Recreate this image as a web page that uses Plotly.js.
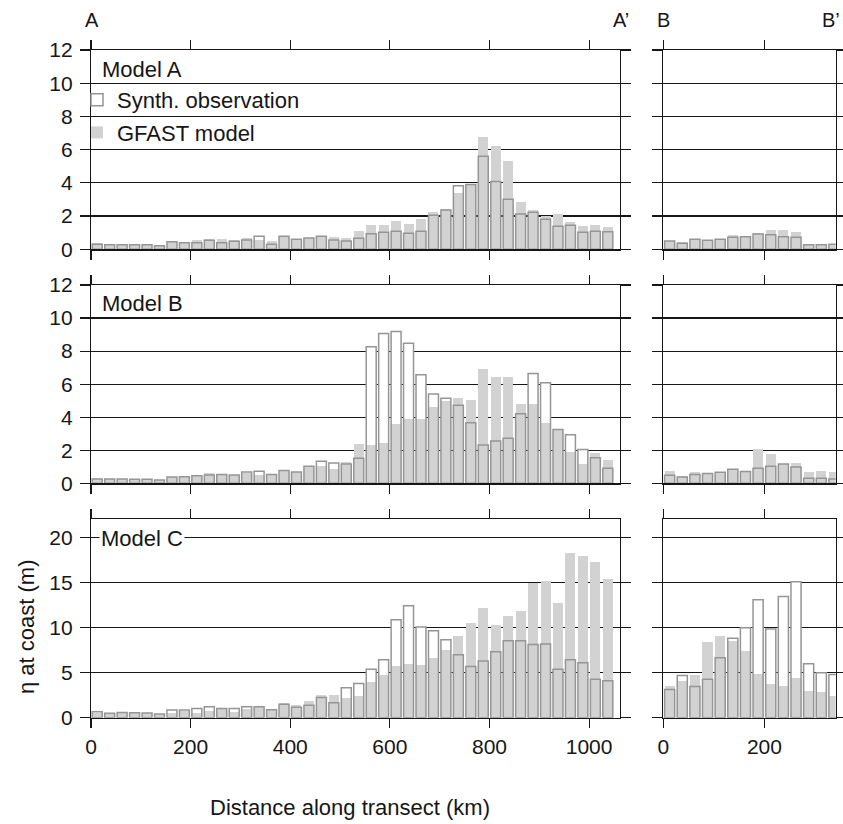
<!DOCTYPE html>
<html>
<head>
<meta charset="utf-8">
<script src="https://cdn.plot.ly/plotly-3.0.1.min.js"></script>
<style>html,body{margin:0;padding:0;background:#fff;}#chart{width:843px;height:824px;}</style>
</head>
<body>
<div id="chart"></div>
<script>
// Bar centre positions along each transect (km)
const distAA = [12.5, 37.5, 62.5, 87.5, 112.5, 137.5, 162.5, 187.5, 212.5, 237.5,
  262.5, 287.5, 312.5, 337.5, 362.5, 387.5, 412.5, 437.5, 462.5, 487.5,
  512.5, 537.5, 562.5, 587.5, 612.5, 637.5, 662.5, 687.5, 712.5, 737.5,
  762.5, 787.5, 812.5, 837.5, 862.5, 887.5, 912.5, 937.5, 962.5, 987.5,
  1012.5, 1037.5];
const distBB = [12.5, 37.5, 62.5, 87.5, 112.5, 137.5, 162.5, 187.5, 212.5, 237.5,
  262.5, 287.5, 312.5, 337.5];

// Model A
const obsA_AA = [0.30,0.28,0.28,0.28,0.28,0.22,0.46,0.40,0.40,0.54,
  0.40,0.48,0.56,0.78,0.30,0.78,0.60,0.68,0.78,0.56,
  0.50,0.66,0.94,1.02,1.08,0.96,1.08,2.05,2.37,3.82,
  3.90,5.60,4.08,3.01,2.13,2.23,1.81,1.39,1.45,1.02,
  1.08,1.06];
const modA_AA = [0.35,0.28,0.28,0.28,0.28,0.22,0.46,0.44,0.56,0.62,
  0.62,0.54,0.66,0.56,0.48,0.78,0.60,0.68,0.74,0.76,
  0.66,1.08,1.45,1.45,1.69,1.53,1.83,2.25,2.41,3.37,
  3.94,6.77,6.22,5.32,2.85,2.37,2.00,2.13,1.65,1.41,
  1.47,1.35];
const obsA_BB = [0.50,0.36,0.60,0.54,0.60,0.72,0.76,0.92,0.88,0.76,0.72,0.28,0.28,0.30];
const modA_BB = [0.50,0.44,0.60,0.54,0.60,0.86,0.76,1.00,1.16,1.16,1.04,0.28,0.28,0.30];

// Model B
const obsB_AA = [0.26,0.26,0.26,0.24,0.24,0.20,0.38,0.40,0.46,0.50,
  0.54,0.50,0.69,0.73,0.54,0.77,0.69,1.03,1.33,1.23,
  1.17,1.51,8.27,9.07,9.19,8.47,6.57,5.40,5.14,4.72,
  3.67,2.32,2.56,2.72,4.21,6.65,6.09,3.25,2.94,2.04,
  1.55,0.91];
const modB_AA = [0.32,0.26,0.26,0.24,0.24,0.20,0.38,0.44,0.50,0.62,
  0.54,0.50,0.65,0.50,0.54,0.73,0.69,1.00,1.05,0.87,
  1.29,2.38,2.32,2.44,3.59,3.89,3.89,4.62,5.00,5.16,
  5.04,6.92,6.43,6.43,4.80,4.80,3.65,3.20,1.90,1.17,
  1.83,1.41];
const obsB_BB = [0.48,0.38,0.54,0.60,0.67,0.85,0.71,0.91,1.03,1.17,0.99,0.30,0.30,0.26];
const modB_BB = [0.75,0.42,0.69,0.60,0.67,0.85,0.71,2.08,1.77,1.17,1.23,0.69,0.75,0.69];

// Model C
const obsC_AA = [0.67,0.48,0.59,0.55,0.52,0.41,0.85,0.85,1.03,1.22,
  1.03,1.03,1.22,1.22,0.89,1.48,1.15,1.37,2.25,1.66,
  3.33,3.80,5.36,6.43,10.86,12.42,10.05,9.65,8.65,6.98,
  5.69,6.28,7.32,8.54,8.54,8.13,8.17,5.36,6.43,6.10,
  4.25,4.10];
const modC_AA = [0.48,0.48,0.59,0.55,0.52,0.41,0.55,0.78,0.55,0.78,
  0.96,0.67,1.00,1.22,0.89,1.59,1.40,1.85,2.48,2.48,
  2.18,2.40,3.95,4.73,5.73,5.95,5.84,6.61,7.50,9.05,
  10.50,12.16,10.27,11.27,11.83,14.97,15.15,12.71,18.26,17.92,
  17.26,15.34];
const obsC_BB = [3.14,4.69,3.47,4.25,6.65,8.80,9.98,13.08,9.83,13.45,15.08,5.99,4.99,4.80];
const modC_BB = [3.51,4.07,4.69,8.39,9.05,8.50,7.39,4.88,3.73,3.51,4.40,2.96,2.85,2.40];

const panelLabels = ['Model A', 'Model B', 'Model C'];
const seriesNames = ['Synth. observation', 'GFAST model'];
const transectLabels = ['A', "A\u2019", 'B', "B\u2019"];

// ---- styling ----
const W = 843, H = 824;
const FONT = '"Liberation Sans", Arial, Helvetica, sans-serif';
const INK = '#161616';
const GRAY = '#d2d2d2';
const OUTLINE = '#959595';
const BARW = 20;
const LW = 1.2;
const px = v => v / W;
const py = v => 1 - v / H;

function panel(xs, obs, mod, xa, ya, legend) {
  return [
    {type:'bar', x:xs, y:obs, xaxis:xa, yaxis:ya, width:BARW,
     marker:{color:'#ffffff', line:{width:0}}, showlegend:false, hoverinfo:'skip'},
    {type:'bar', x:xs, y:mod, xaxis:xa, yaxis:ya, width:BARW, name:seriesNames[1],
     legendgroup:'g2', legendrank:2,
     marker:{color:GRAY, line:{width:0}}, showlegend:legend},
    {type:'bar', x:xs, y:obs, xaxis:xa, yaxis:ya, width:BARW, name:seriesNames[0],
     legendgroup:'g1', legendrank:1,
     marker:{color:'rgba(255,255,255,0)', line:{width:1.5, color:OUTLINE}}, showlegend:legend}
  ];
}

const data = [].concat(
  panel(distAA, obsA_AA, modA_AA, 'x', 'y', true),
  panel(distBB, obsA_BB, modA_BB, 'x2', 'y2', false),
  panel(distAA, obsB_AA, modB_AA, 'x3', 'y3', false),
  panel(distBB, obsB_BB, modB_BB, 'x4', 'y4', false),
  panel(distAA, obsC_AA, modC_AA, 'x5', 'y5', false),
  panel(distBB, obsC_BB, modC_BB, 'x6', 'y6', false)
);

const leftDom = [px(91), px(620)];
const rightDom = [px(663.3), px(835.7)];
const rows = [[py(249.3), py(50)], [py(483.3), py(285)], [py(717.7), py(519.3)]];

function baseAxis() {
  return {showline:true, linecolor:INK, linewidth:LW, mirror:'ticks',
    ticks:'outside', ticklen:9, tickwidth:LW, tickcolor:INK, zeroline:false,
    fixedrange:true, tickfont:{family:FONT, size:21, color:INK}};
}
function xAx(dom, anchor, range, labels) {
  return Object.assign(baseAxis(), {domain:dom, anchor:anchor, range:range,
    tickmode:'linear', tick0:0, dtick:200, showgrid:false, showticklabels:labels,
    ticklabelstandoff:1});
}
function yAx(dom, anchor, range, dtick, labels) {
  return Object.assign(baseAxis(), {domain:dom, anchor:anchor, range:range,
    tickmode:'linear', tick0:0, dtick:dtick, showgrid:true, gridcolor:INK, gridwidth:LW,
    showticklabels:labels, ticklen:10, ticklabelstandoff:3});
}

const layout = {
  width:W, height:H, autosize:false,
  margin:{l:0, r:0, t:0, b:0, pad:0},
  paper_bgcolor:'#ffffff', plot_bgcolor:'rgba(0,0,0,0)',
  barmode:'overlay', bargap:0,
  font:{family:FONT, size:22, color:INK},
  showlegend:true,
  legend:{x:px(77), y:py(79), xanchor:'left', yanchor:'top', bgcolor:'rgba(0,0,0,0)',
    font:{family:FONT, size:22, color:INK}, traceorder:'grouped', tracegroupgap:1,
    itemwidth:30, borderwidth:0},
  xaxis:  xAx(leftDom,  'y',  [0, 1062], false),
  xaxis2: xAx(rightDom, 'y2', [0, 341],  false),
  xaxis3: xAx(leftDom,  'y3', [0, 1062], false),
  xaxis4: xAx(rightDom, 'y4', [0, 341],  false),
  xaxis5: xAx(leftDom,  'y5', [0, 1062], true),
  xaxis6: xAx(rightDom, 'y6', [0, 341],  true),
  yaxis:  yAx(rows[0], 'x',  [0, 12], 2, true),
  yaxis2: yAx(rows[0], 'x2', [0, 12], 2, false),
  yaxis3: yAx(rows[1], 'x3', [0, 12], 2, true),
  yaxis4: yAx(rows[1], 'x4', [0, 12], 2, false),
  yaxis5: yAx(rows[2], 'x5', [0, 22], 5, true),
  yaxis6: yAx(rows[2], 'x6', [0, 22], 5, false),
  annotations: [
    {text:panelLabels[0], xref:'paper', yref:'paper', x:px(100), y:py(69), xanchor:'left', yanchor:'middle', showarrow:false},
    {text:panelLabels[1], xref:'paper', yref:'paper', x:px(100), y:py(303), xanchor:'left', yanchor:'middle', showarrow:false},
    {text:panelLabels[2], xref:'paper', yref:'paper', x:px(99), y:py(538), xanchor:'left', yanchor:'middle', showarrow:false, bgcolor:'#ffffff', borderpad:1},
    {text:transectLabels[0], xref:'paper', yref:'paper', x:px(92), y:py(20), xanchor:'center', yanchor:'middle', showarrow:false, font:{size:20}},
    {text:transectLabels[1], xref:'paper', yref:'paper', x:px(621), y:py(20), xanchor:'center', yanchor:'middle', showarrow:false, font:{size:20}},
    {text:transectLabels[2], xref:'paper', yref:'paper', x:px(663), y:py(20), xanchor:'center', yanchor:'middle', showarrow:false, font:{size:20}},
    {text:transectLabels[3], xref:'paper', yref:'paper', x:px(842), y:py(20), xanchor:'right', yanchor:'middle', showarrow:false, font:{size:20}},
    {text:'\u03b7 at coast (m)', xref:'paper', yref:'paper', x:px(26), y:py(627), xanchor:'center', yanchor:'middle', textangle:-90, showarrow:false},
    {text:'Distance along transect (km)', xref:'paper', yref:'paper', x:px(350), y:py(807), xanchor:'center', yanchor:'middle', showarrow:false}
  ]
};

Plotly.newPlot('chart', data, layout, {displayModeBar:false, staticPlot:true});
</script>
</body>
</html>
